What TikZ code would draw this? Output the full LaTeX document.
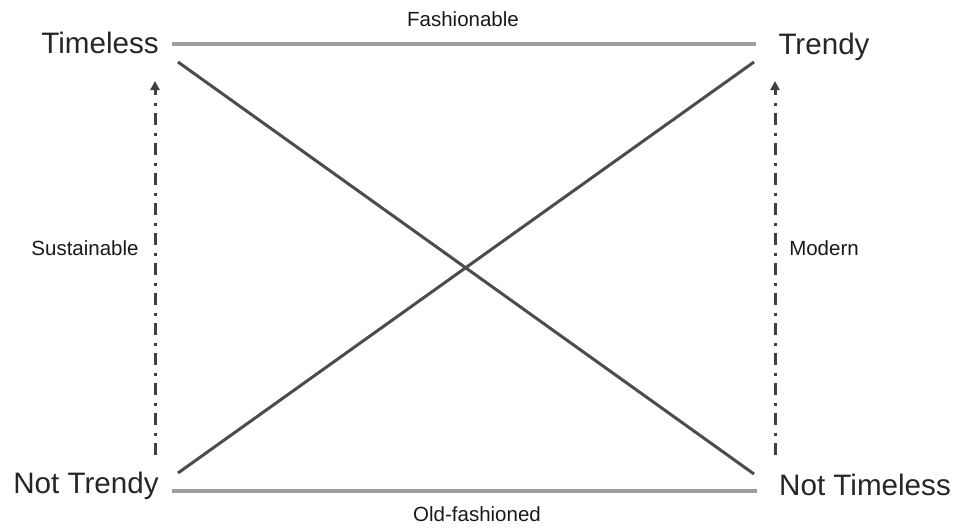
\documentclass[tikz,border=0pt]{standalone}
\usepackage{fontspec}
\setmainfont{Liberation Sans}
\usetikzlibrary{arrows.meta}
\begin{document}
\begin{tikzpicture}[x=1pt,y=-1pt,
  big/.style={font=\fontsize{29.6}{34}\selectfont, text=black!85, inner sep=0pt},
  small/.style={font=\fontsize{20.5}{24}\selectfont, text=black!90, inner sep=0pt},
  hline/.style={draw=black!38, line width=3.5pt},
  diag/.style={draw=black!70, line width=3pt},
  vaxis/.style={draw=black!75, line width=3pt, dash pattern=on 12pt off 7pt on 3pt off 8pt, -{Triangle[width=9pt,length=9pt]}, shorten >=0pt}
]
\useasboundingbox (0,0) rectangle (957,528);
% labels
\node[big] (timeless) at (100,43) {Timeless};
\node[big] (trendy) at (824,47) {Trendy};
\node[big] (nottrendy) at (86,486) {Not Trendy};
\node[big] (nottimeless) at (865,485) {Not Timeless};
\node[small] (fash) at (463,19) {Fashionable};
\node[small] (old) at (477,514) {Old-fashioned};
\node[small] (sust) at (85,248) {Sustainable};
\node[small] (modern) at (824,248) {Modern};
% line end points
\coordinate (ht1) at (172,44);
\coordinate (ht2) at (756,44);
\coordinate (hb1) at (172,491);
\coordinate (hb2) at (757,491);
\coordinate (d1a) at (178,62);
\coordinate (d1b) at (754,474);
\coordinate (d2a) at (178,473);
\coordinate (d2b) at (754,62);
\coordinate (vl1) at (155,455);
\coordinate (vl2) at (155,81);
\coordinate (vr1) at (775,455);
\coordinate (vr2) at (775,81);
% connectors
\draw[hline] (ht1) -- (ht2);
\draw[hline] (hb1) -- (hb2);
\draw[diag] (d1a) -- (d1b);
\draw[diag] (d2a) -- (d2b);
\draw[vaxis] (vl1) -- (vl2);
\draw[vaxis] (vr1) -- (vr2);
\end{tikzpicture}
\end{document}
